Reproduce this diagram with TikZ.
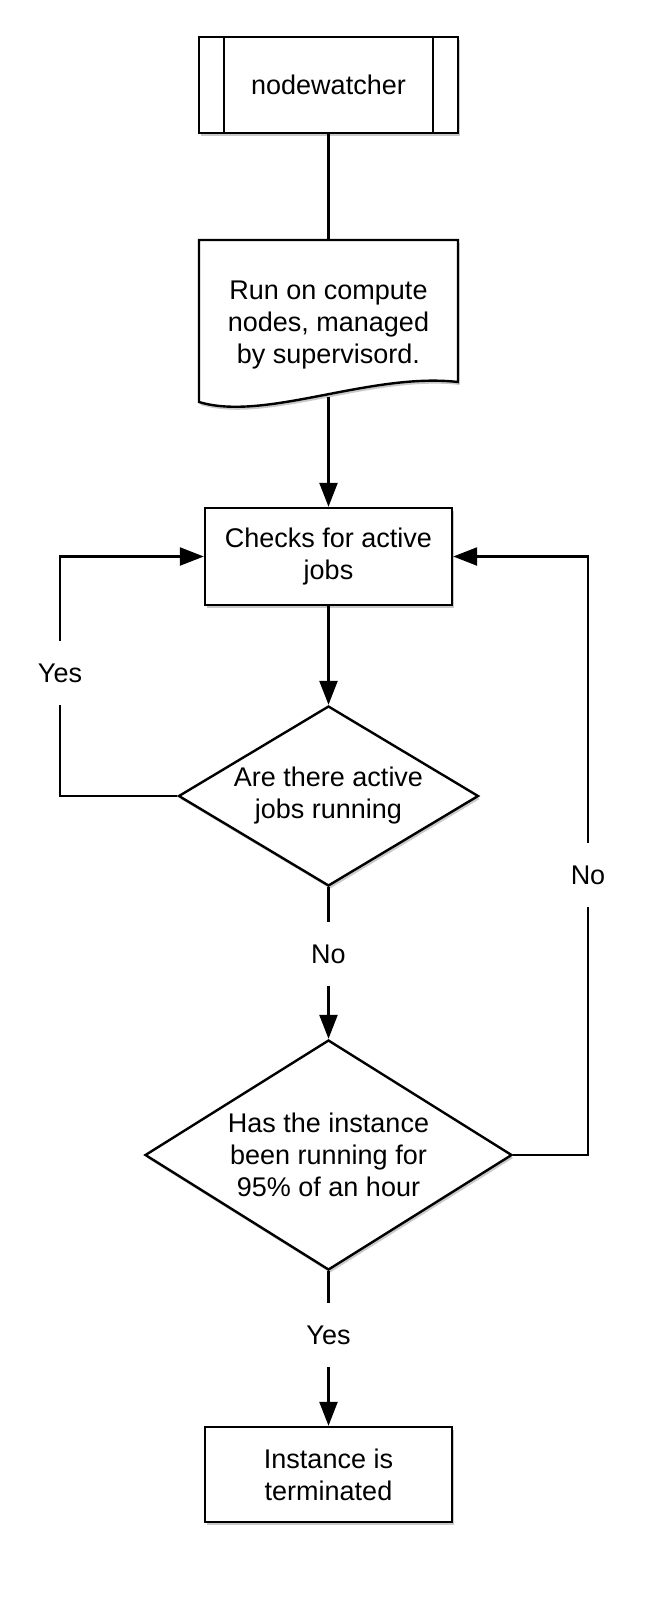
\documentclass[tikz,border=0pt]{standalone}
\usepackage{fontspec}
\setmainfont{Liberation Sans}
\usetikzlibrary{shapes.geometric,arrows.meta,shadows}
\begin{document}
\begin{tikzpicture}[x=0.5pt,y=-0.5pt,
  every node/.style={font=\fontsize{13.5}{16}\selectfont, align=center},
  shad/.style={drop shadow={shadow xshift=0.8pt,shadow yshift=-1.5pt,opacity=0.3,fill=black!70}},
  box/.style={draw, line width=1.2pt, fill=white, inner sep=0pt, shad},
  dia/.style={draw, diamond, line width=1.2pt, fill=white, inner sep=0pt, shad},
  lbl/.style={inner sep=0pt, minimum height=32pt, minimum width=20pt},
  conn/.style={line width=1.2pt},
  arr/.style={line width=1.2pt, -{Triangle[length=12pt,width=9pt]}}
]
\useasboundingbox (0,0) rectangle (661,1605);

% subroutine box
\node[box, minimum width=129.5pt, minimum height=48pt] (nw) at (328.5,85) {nodewatcher};
\draw[line width=1.2pt] ([xshift=13pt]nw.north west) -- ([xshift=13pt]nw.south west);
\draw[line width=1.2pt] ([xshift=-13pt]nw.north east) -- ([xshift=-13pt]nw.south east);

% document shape
\coordinate (dtl) at (199,240);
\coordinate (dtr) at (458,240);
\coordinate (dbr) at (458,382);
\coordinate (dbl) at (199,402);
\coordinate (docbot) at (328.5,397);
\coordinate (doctop) at (328.5,240);
\draw[line width=1.2pt, fill=white, shad, line join=miter]
  (dtl) -- (dtr) -- (dbr) .. controls (370,372) and (265,422) .. (dbl) -- cycle;
\node[inner sep=0pt] (doc) at (328.5,325) {Run on compute\\nodes, managed\\by supervisord.};

% process box
\node[box, minimum width=123.5pt, minimum height=48.5pt] (chk) at (328.5,556.5) {Checks for active\\jobs};

% decisions
\node[dia, minimum width=150pt, minimum height=90pt, aspect=1.667] (d1) at (328.5,796) {Are there active\\jobs running};
\node[dia, minimum width=183.5pt, minimum height=115pt, aspect=1.6] (d2) at (328.5,1155) {Has the instance\\been running for\\95\% of an hour};

% terminal box
\node[box, minimum width=123.5pt, minimum height=47.5pt] (term) at (328.5,1474.5) {Instance is\\terminated};

% labels
\node[lbl] (yes1) at (60,673) {Yes};
\node[lbl] (no1) at (328.5,954) {No};
\node[lbl] (no2) at (588,875) {No};
\node[lbl] (yes2) at (328.5,1335) {Yes};

% connectors
\draw[conn] (nw.south) -- (doctop);
\draw[arr] (docbot) -- (chk.north);
\draw[arr] (chk.south) -- (d1.north);
\draw[conn] (d1.west) -| (yes1.south);
\draw[arr] (yes1.north) |- (chk.west);
\draw[conn] (d1.south) -- (no1.north);
\draw[arr] (no1.south) -- (d2.north);
\draw[conn] (d2.east) -| (no2.south);
\draw[arr] (no2.north) |- (chk.east);
\draw[conn] (d2.south) -- (yes2.north);
\draw[arr] (yes2.south) -- (term.north);
\end{tikzpicture}
\end{document}
